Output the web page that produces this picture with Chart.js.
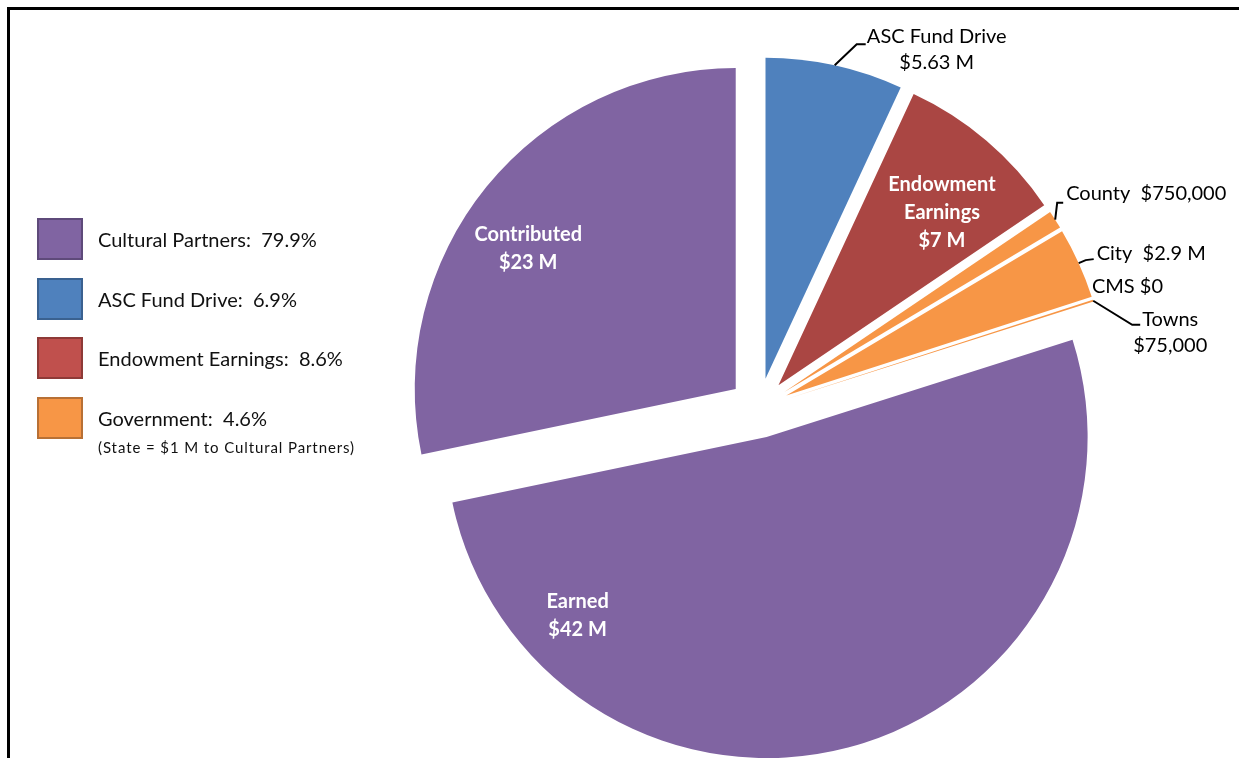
<!DOCTYPE html>
<html>
<head>
<meta charset="utf-8">
<script src="https://cdn.jsdelivr.net/npm/chart.js@4.4.1/dist/chart.umd.min.js"></script>
<style>
  html, body { margin: 0; padding: 0; background: #fff; }
  body { width: 1239px; height: 758px; position: relative; overflow: hidden; font-family: Lato, 'Open Sans', sans-serif; }
  #frame { position: absolute; left: 7px; top: 7px; right: -10px; bottom: -10px; border-top: 3px solid #000; border-left: 3px solid #000; }
  #chart { position: absolute; left: 0; top: 0; }
  .legend { position: absolute; left: 37px; top: 218px; }
  .item { position: absolute; left: 0; width: 400px; height: 42px; }
  .swatch { position: absolute; left: 0; top: 0; width: 42px; height: 38px; border: 2px solid; }
  .item span { position: absolute; left: 61px; top: 9px; font-size: 20px; line-height: 24px; color: #111; white-space: pre; }
  .note { position: absolute; left: 61px; top: 220px; font-size: 15px; line-height: 18px; letter-spacing: 0.9px; color: #111; white-space: pre; }
</style>
</head>
<body>
<div id="frame"></div>
<canvas id="chart" width="1239" height="758"></canvas>
<div class="legend" id="legend"></div>

<script>
// slices, clockwise from 12 o'clock (values in $M)
const sliceNames = ['ASC Fund Drive', 'Endowment Earnings', 'County', 'City', 'CMS', 'Towns', 'Earned', 'Contributed'];
const sliceValues = [5.63, 7, 0.75, 2.9, 0, 0.075, 42, 23];
const valueLabels = ['$5.63 M', '$7 M', '$750,000', '$2.9 M', '$0', '$75,000', '$42 M', '$23 M'];
const sliceColors = ['#4F81BD', '#AA4643', '#F79646', '#F79646', '#F79646', '#F79646', '#8064A2', '#8064A2'];

// legend groups
const groupNames = ['Cultural Partners', 'ASC Fund Drive', 'Endowment Earnings', 'Government'];
const groupPercents = [79.9, 6.9, 8.6, 4.6];
const groupColors = ['#8064A2', '#4F81BD', '#C0504D', '#F79646'];
const groupBorders = ['#5E4A7A', '#3A6190', '#8E3A37', '#B87035'];

const legend = document.getElementById('legend');
groupNames.forEach((name, i) => {
  const el = document.createElement('div');
  el.className = 'item';
  el.style.top = (i * 59.5) + 'px';
  el.innerHTML = '<div class="swatch" style="background:' + groupColors[i] + ';border-color:' + groupBorders[i] + '"></div>' +
    '<span>' + name + ':  ' + groupPercents[i].toFixed(1) + '%</span>';
  legend.appendChild(el);
});
const note = document.createElement('div');
note.className = 'note';
note.textContent = '(State = $1 M to Cultural Partners)';
legend.appendChild(note);

const FONT = "Lato, 'Open Sans', sans-serif";
const EXPLODE = 30;

// pull every slice out along its bisector (Excel style explode, same radius for all)
const explodePlugin = {
  id: 'explode',
  afterDatasetUpdate(chart, args) {
    args.meta.data.forEach(arc => {
      const mid = (arc.startAngle + arc.endAngle) / 2;
      arc.x += Math.cos(mid) * EXPLODE;
      arc.y += Math.sin(mid) * EXPLODE;
    });
  }
};

// white labels inside the big slices
const insideLabels = [
  { index: 1, lines: ['Endowment', 'Earnings', valueLabels[1]], along: 0.6, dist: 0.74 },
  { index: 6, lines: ['Earned', valueLabels[6]], along: 0.83, dist: 0.81 },
  { index: 7, lines: ['Contributed', valueLabels[7]], along: 0.45, dist: 0.78 }
];
// black labels outside with leader lines (offsets from the rim point)
const outsideLabels = [
  { index: 0, lines: ['ASC Fund Drive', valueLabels[0]], path: [[22, -21], [31, -21]], text: [102, -29], align: 'center' },
  { index: 2, lines: ['County  ' + valueLabels[2]], path: [[2, -17], [8, -17]], text: [11, -26], align: 'left' },
  { index: 3, lines: ['City  ' + valueLabels[3]], path: [[7, -3], [15, -4]], text: [18, -10], align: 'left' },
  { index: 4, lines: ['CMS ' + valueLabels[4]], path: null, text: [-1, -13], align: 'left' },
  { index: 5, lines: ['Towns', valueLabels[5]], path: [[39, 24], [47, 24]], text: [77, 19], align: 'center' }
];

const labelPlugin = {
  id: 'sliceLabels',
  afterDatasetsDraw(chart) {
    const ctx = chart.ctx;
    const arcs = chart.getDatasetMeta(0).data;
    ctx.save();
    ctx.textBaseline = 'middle';

    ctx.fillStyle = '#fff';
    ctx.font = 'bold 20px ' + FONT;
    ctx.textAlign = 'center';
    insideLabels.forEach(l => {
      const a = arcs[l.index];
      const ang = a.startAngle + l.along * (a.endAngle - a.startAngle);
      const r = a.outerRadius * l.dist;
      const x = a.x + Math.cos(ang) * r;
      const y = a.y + Math.sin(ang) * r;
      const h = 28;
      l.lines.forEach((t, k) => ctx.fillText(t, x, y + (k - (l.lines.length - 1) / 2) * h));
    });

    ctx.fillStyle = '#000';
    ctx.strokeStyle = '#000';
    ctx.lineWidth = 2;
    ctx.font = '20px ' + FONT;
    outsideLabels.forEach(l => {
      const a = arcs[l.index];
      const mid = (a.startAngle + a.endAngle) / 2;
      const rx = a.x + Math.cos(mid) * a.outerRadius;
      const ry = a.y + Math.sin(mid) * a.outerRadius;
      if (l.path) {
        ctx.beginPath();
        ctx.moveTo(rx, ry);
        l.path.forEach(p => ctx.lineTo(rx + p[0], ry + p[1]));
        ctx.stroke();
      }
      ctx.textAlign = l.align;
      l.lines.forEach((t, k) => ctx.fillText(t, rx + l.text[0], ry + l.text[1] + k * 26));
    });
    ctx.restore();
  }
};

new Chart(document.getElementById('chart'), {
  type: 'pie',
  data: {
    labels: sliceNames,
    datasets: [{
      data: sliceValues,
      backgroundColor: sliceColors,
      borderWidth: 0,
      radius: 321
    }]
  },
  options: {
    responsive: false,
    animation: false,
    layout: { padding: { left: 300, right: 21, top: 58, bottom: 0 } },
    plugins: {
      legend: { display: false },
      tooltip: { enabled: false }
    }
  },
  plugins: [explodePlugin, labelPlugin]
});
</script>
</body>
</html>
